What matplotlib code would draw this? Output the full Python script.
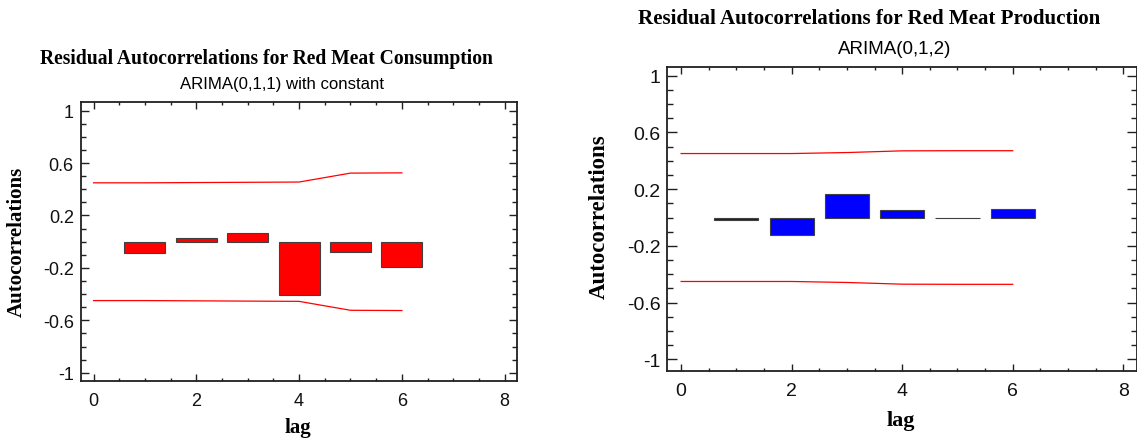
import matplotlib
matplotlib.use('Agg')
import matplotlib.pyplot as plt
from matplotlib.ticker import MultipleLocator, FixedLocator, FixedFormatter

# residual autocorrelations
lags = [1, 2, 3, 4, 5, 6]
cons_acf = [-0.086, 0.028, 0.069, -0.404, -0.079, -0.195]
prod_acf = [-0.019, -0.124, 0.163, 0.054, -0.003, 0.061]

# 95% probability limits (drawn from lag 0 to lag 6)
limit_lags = [0, 1, 2, 3, 4, 5, 6]
cons_limit = [0.449, 0.449, 0.451, 0.453, 0.455, 0.523, 0.525]
prod_limit = [0.451, 0.451, 0.451, 0.458, 0.470, 0.471, 0.471]

ytick_vals = [-1, -0.6, -0.2, 0.2, 0.6, 1]
ytick_labels = ['-1', '-0.6', '-0.2', '0.2', '0.6', '1']

W, H = 1137, 439
SERIF = ['Liberation Serif', 'DejaVu Serif']
SANS = ['Liberation Sans', 'DejaVu Sans']

plt.rcParams['axes.unicode_minus'] = False


def px_text(fig, x, y, s, **kw):
    '''Place text by pixel position (origin top left).'''
    fig.text(x / W, 1 - y / H, s, **kw)


def acf_panel(fig, rect, acf, limit, color, ylim, ylen, lsize):
    ax = fig.add_axes(rect)
    ax.bar(lags, acf, width=0.8, color=color, edgecolor='#404040', linewidth=0.8, zorder=2)
    ax.plot(limit_lags, limit, color='red', lw=0.9, zorder=3)
    ax.plot(limit_lags, [-v for v in limit], color='red', lw=0.9, zorder=3)
    ax.set_xlim(-0.25, 8.24)
    ax.set_ylim(*ylim)

    ax.xaxis.set_major_locator(MultipleLocator(2))
    ax.xaxis.set_minor_locator(MultipleLocator(0.5))
    ax.yaxis.set_major_locator(FixedLocator(ytick_vals))
    ax.yaxis.set_major_formatter(FixedFormatter(ytick_labels))
    ax.yaxis.set_minor_locator(MultipleLocator(0.1))

    ax.tick_params(axis='both', which='both', direction='in', top=True, right=True,
                   width=1.0, color='#202020', labelsize=lsize, labelcolor='#111111')
    ax.tick_params(axis='x', which='major', length=5, pad=8)
    ax.tick_params(axis='x', which='minor', length=2.5)
    ax.tick_params(axis='y', which='major', length=ylen, pad=5)
    ax.tick_params(axis='y', which='minor', length=ylen * 0.6)
    for lab in ax.get_xticklabels() + ax.get_yticklabels():
        lab.set_family(SANS)
    for sp in ax.spines.values():
        sp.set_linewidth(1.3)
        sp.set_color('#202020')
    return ax


fig = plt.figure(figsize=(W / 100, H / 100), dpi=100)

# left panel: consumption
acf_panel(fig, [80.7 / W, 1 - 381.7 / H, (517 - 80.7) / W, (381.7 - 103.3) / H],
          cons_acf, cons_limit, '#ff0000', (-1.06, 1.063), 5.5, 13)
px_text(fig, 266, 59, 'Residual Autocorrelations for Red Meat Consumption',
        ha='center', va='center', fontsize=14.1, fontweight='bold', family=SERIF)
px_text(fig, 282, 85, 'ARIMA(0,1,1) with constant', ha='center', va='center',
        fontsize=12.1, family=SANS)
px_text(fig, 17, 242, 'Autocorrelations', ha='center', va='center', rotation=90,
        fontsize=15, fontweight='bold', family=SERIF)
px_text(fig, 298, 428, 'lag', ha='center', va='center', fontsize=15,
        fontweight='bold', family=SERIF)

# right panel: production
acf_panel(fig, [667.3 / W, 1 - 371.7 / H, (1136.5 - 667.3) / W, (371.7 - 68.3) / H],
          prod_acf, prod_limit, '#0000ff', (-1.08, 1.059), 7.5, 14)
px_text(fig, 869, 19, 'Residual Autocorrelations for Red Meat Production',
        ha='center', va='center', fontsize=15.1, fontweight='bold', family=SERIF)
px_text(fig, 895, 49, 'ARIMA(0,1,2)', ha='center', va='center',
        fontsize=13.5, family=SANS)
px_text(fig, 599, 217, 'Autocorrelations', ha='center', va='center', rotation=90,
        fontsize=16.5, fontweight='bold', family=SERIF)
px_text(fig, 901, 421, 'lag', ha='center', va='center', fontsize=16,
        fontweight='bold', family=SERIF)

fig.savefig('out.png', dpi=100, facecolor='white')
